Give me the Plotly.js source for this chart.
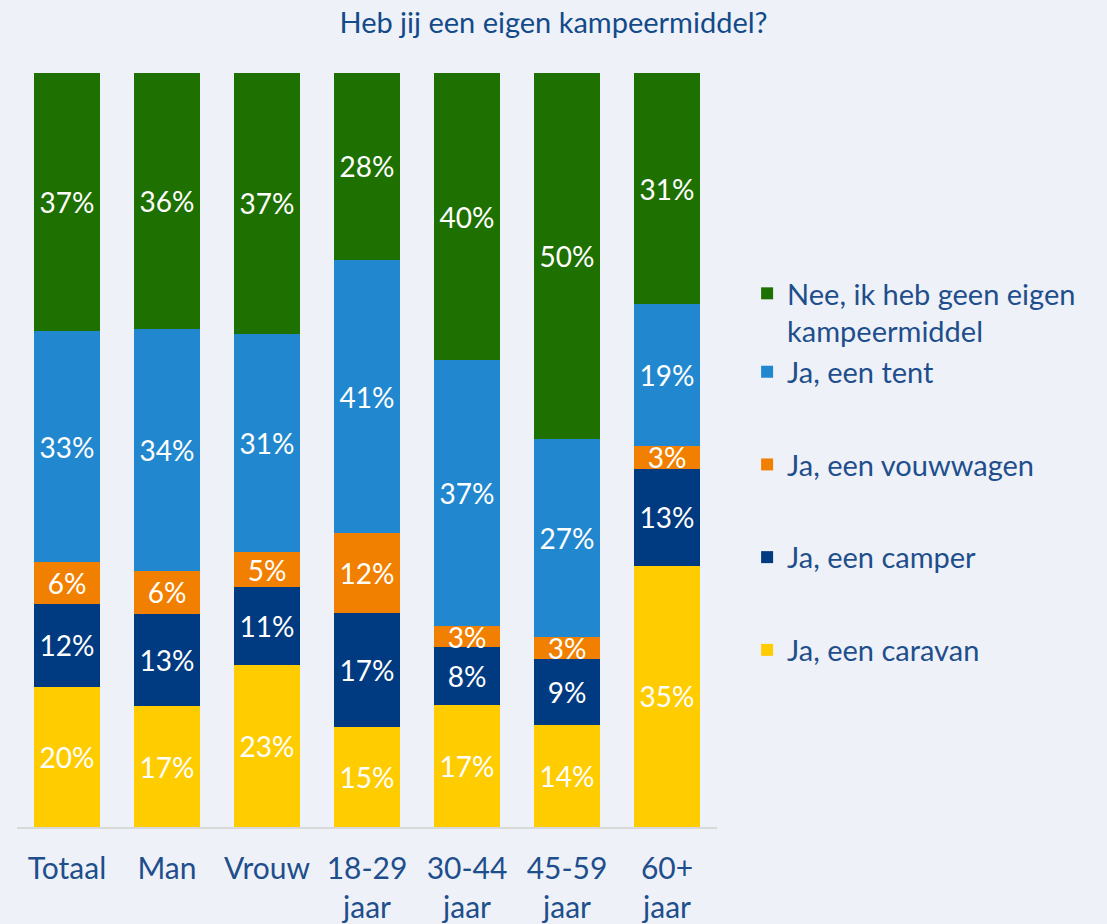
<!DOCTYPE html>
<html>
<head>
<meta charset="utf-8">
<script src="https://cdn.plot.ly/plotly-3.0.1.min.js"></script>
<style>
  html, body { margin: 0; padding: 0; background: #EEF2F8; }
  #chart { width: 1107px; height: 924px; }
</style>
</head>
<body>
<div id="chart"></div>
<script>
const categories = ['Totaal', 'Man', 'Vrouw', '18-29<br>jaar', '30-44<br>jaar', '45-59<br>jaar', '60+<br>jaar'];

const caravan    = [20, 17, 23, 15, 17, 14, 35];
const camper     = [12, 13, 11, 17, 8, 9, 13];
const vouwwagen  = [6, 6, 5, 12, 3, 3, 3];
const tent       = [33, 34, 31, 41, 37, 27, 19];
const geen       = [37, 36, 37, 28, 40, 50, 31];

const seriesNames = ['Ja, een caravan', 'Ja, een camper', 'Ja, een vouwwagen', 'Ja, een tent', 'Nee, ik heb geen eigen<br>kampeermiddel'];
const seriesValues = [caravan, camper, vouwwagen, tent, geen];
const seriesColors = ['#FFCC00', '#003A80', '#F28000', '#2188CF', '#1E7000'];
const legendGroups = ['g5', 'g4', 'g3', 'g1', 'g1'];
const legendRanks = [5, 4, 3, 2, 1];

const FONT = 'Lato, "Open Sans", sans-serif';

const traces = seriesValues.map((vals, i) => ({
  type: 'bar',
  x: categories,
  y: vals,
  name: seriesNames[i],
  legendgroup: legendGroups[i],
  legendrank: legendRanks[i],
  marker: { color: seriesColors[i], line: { width: 0 } },
  text: vals.map(v => v + '%'),
  texttemplate: '%{text}',
  textposition: 'inside',
  insidetextanchor: 'middle',
  constraintext: 'none',
  textfont: { color: '#FFFFFF', size: 28, family: FONT },
  hoverinfo: 'skip'
}));

const layout = {
  width: 1107,
  height: 924,
  paper_bgcolor: '#EEF2F8',
  plot_bgcolor: '#EEF2F8',
  barmode: 'stack',
  barnorm: 'percent',
  bargap: 0.34,
  margin: { l: 17, r: 390, t: 73, b: 97 },
  title: {
    text: 'Heb jij een eigen kampeermiddel?',
    font: { family: FONT, size: 29, color: '#134A8A' },
    x: 0.5, xref: 'container', xanchor: 'center',
    y: 0.975, yref: 'container', yanchor: 'middle'
  },
  xaxis: {
    type: 'category',
    showgrid: false,
    zeroline: false,
    showline: true,
    linecolor: '#D9D9D9',
    linewidth: 2,
    ticks: '',
    tickfont: { family: FONT, size: 30, color: '#1F4E8C' },
    ticklabelstandoff: 14
  },
  yaxis: {
    range: [0, 100],
    visible: false,
    showgrid: false,
    zeroline: false
  },
  showlegend: true,
  legend: {
    x: 1.043, xanchor: 'left',
    y: 0.7414, yanchor: 'top',
    traceorder: 'grouped',
    tracegroupgap: 52,
    valign: 'top',
    bgcolor: 'rgba(0,0,0,0)',
    font: { family: FONT, size: 29, color: '#1F4E8C' },
    itemclick: false
  }
};

Plotly.newPlot('chart', traces, layout, { displayModeBar: false, staticPlot: true });
</script>
</body>
</html>
